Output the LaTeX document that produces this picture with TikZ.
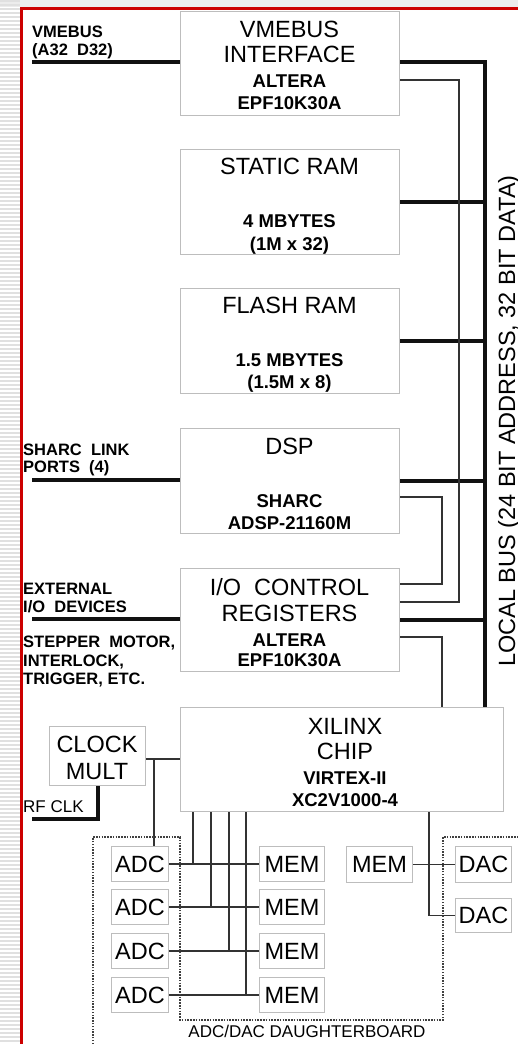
\documentclass[tikz,border=0pt]{standalone}
\usepackage{fontspec}
\setmainfont{Liberation Sans}
\usepackage{tikz}
\usetikzlibrary{positioning,calc}
\definecolor{rojo}{HTML}{CC0000}
\definecolor{borde}{HTML}{BDBDBD}
\definecolor{tinta}{HTML}{111111}
\definecolor{raya}{HTML}{E0E0E0}
\definecolor{fondo}{HTML}{ECECEC}

\begin{document}
\begin{tikzpicture}[x=1pt,y=-1pt,
 blk/.style={draw=borde,line width=1pt,fill=white,inner sep=0pt,anchor=north west},
 chip/.style={blk,font=\fontsize{23.5}{25}\selectfont},
 ttl/.style={font=\fontsize{23.5}{#1}\selectfont,align=center,inner sep=0pt,anchor=north},
 ttl/.default=25,
 sub/.style={font=\bfseries\fontsize{18.5}{#1}\selectfont,align=center,inner sep=0pt,anchor=north},
 sub/.default=22,
 lbl/.style={font=\bfseries\fontsize{16.5}{#1}\selectfont,align=left,inner sep=0pt,anchor=north west},
 lbl/.default=18,
 bigline/.style={line width=4pt,tinta},
 smline/.style={line width=1.8pt,black!80},
 board/.style={line width=1.5pt,black!75,dash pattern=on 1.5pt off 1.3pt}]
\useasboundingbox (0,0) rectangle (518,1044);
% page background
\fill[fondo] (0,0) rectangle (518,7);
\foreach \k in {1,5,...,1041} \draw[raya,line width=1.5pt] (0,\k) -- (20,\k);
\draw[rojo,line width=2.5pt] (518,8.5) -- (21.5,8.5) -- (21.5,1044);
% main column
\node[blk,minimum width=219pt,minimum height=104pt] (vme) at (180,11) {};
\node[blk,minimum width=219pt,minimum height=105pt] (sram) at (180,149) {};
\node[blk,minimum width=219pt,minimum height=105pt] (flash) at (180,288) {};
\node[blk,minimum width=219pt,minimum height=105pt] (dsp) at (180,428) {};
\node[blk,minimum width=219pt,minimum height=103pt] (ioc) at (180,568) {};
\node[blk,minimum width=323pt,minimum height=104pt] (xil) at (180,707) {};
\node[chip,minimum width=96pt,minimum height=59pt] (clk) at (49,726) {};
\node[ttl] (vme-t) at (289.5,21) {VMEBUS\\INTERFACE};
\node[sub] (vme-s) at (289.5,75) {ALTERA\\EPF10K30A};
\node[ttl] (sram-t) at (289.5,158) {STATIC RAM};
\node[sub=23] (sram-s) at (289.5,214) {4 MBYTES\\(1M x 32)};
\node[ttl] (flash-t) at (289.5,297) {FLASH RAM};
\node[sub] (flash-s) at (289.5,353) {1.5 MBYTES\\(1.5M x 8)};
\node[ttl] (dsp-t) at (289.5,438) {DSP};
\node[sub] (dsp-s) at (289.5,494) {SHARC\\ADSP-21160M};
\node[ttl=26] (ioc-t) at (289.5,578) {I/O\ \ CONTROL\\REGISTERS};
\node[sub=20] (ioc-s) at (289.5,634) {ALTERA\\EPF10K30A};
\node[ttl] (xil-t) at (345,718) {XILINX\\CHIP};
\node[sub] (xil-s) at (345,772) {VIRTEX-II\\XC2V1000-4};
\node[ttl=27] (clk-t) at (97,736) {CLOCK\\MULT};
% daughterboard parts
\foreach \i/\y in {1/846,2/889,3/933,4/977}{
  \node[chip,minimum width=57pt,minimum height=35pt] (adc\i) at (111,\y) {ADC};
  \node[chip,minimum width=65pt,minimum height=35pt] (mem\i) at (259,\y) {MEM};}
\node[chip,minimum width=66pt,minimum height=36pt] (memr) at (346,846) {MEM};
\node[chip,minimum width=56pt,minimum height=36pt] (dac1) at (455,846) {DAC};
\node[chip,minimum width=56pt,minimum height=34pt] (dac2) at (455,898) {DAC};
% outside labels
\node[lbl] (vme-l) at (32,26) {VMEBUS\\(A32\ \ D32)};
\node[lbl=17] (sharc-l) at (23,444) {SHARC\ \ LINK\\PORTS\ \ (4)};
\node[lbl] (ext-l) at (23,583) {EXTERNAL\\I/O\ \ DEVICES};
\node[lbl=18.5] (step-l) at (23,636) {STEPPER\ \ MOTOR,\\INTERLOCK,\\TRIGGER, ETC.};
\node[lbl,font=\fontsize{17}{18}\selectfont] (rf-l) at (23,800) {RF CLK};
\node[ttl,font=\fontsize{17}{18}\selectfont] (db-l) at (307,1025) {ADC/DAC DAUGHTERBOARD};
\node[font=\fontsize{23.5}{25}\selectfont,rotate=90,anchor=base,inner sep=0pt] (bus-l) at (515,421) {LOCAL BUS (24 BIT ADDRESS, 32 BIT DATA)};
% buses
\coordinate (bus) at (485,62);
\coordinate (lbus) at (459,80);
\coordinate (loop) at (442,497);
\coordinate (vme-in) at (32,62);
\coordinate (sharc-in) at (32,480);
\coordinate (ext-in) at (32,619);
\coordinate (rf-in) at (32,819);
\coordinate (ck) at (154,759);
\draw[bigline] (vme-in) -- (vme-in -| vme.west);
\draw[bigline] (sharc-in) -- (sharc-in -| dsp.west);
\draw[bigline] (ext-in) -- (ext-in -| ioc.west);
\draw[bigline] (clk.south) |- (rf-in);
\draw[bigline] (vme.east |- bus) -- (bus) -- (bus |- xil.north);
\foreach \n in {sram,flash,dsp,ioc} \draw[bigline] (\n.east) -- (\n.east -| bus);
\draw[smline] (vme.east |- lbus) -- (lbus) |- (ioc.east |- 0,602);
\draw[smline] (dsp.east |- loop) -- (loop) |- (ioc.east |- 0,584);
\draw[smline] (ioc.east |- 0,637) -| (loop |- xil.north);
\draw[smline] (clk.east |- ck) -- (xil.west |- ck);
\draw[smline] (ck) -- (ck |- adc1.north);
\foreach \i/\x in {1/193,2/211,3/229,4/246}{
  \draw[smline] (adc\i.east) -- (mem\i.west);
  \draw[smline] (xil.south -| \x,0) -- (adc\i.east -| \x,0);}
\draw[smline] (memr.east) -- (dac1.west);
\draw[smline] (xil.south -| 429,0) |- (dac2.west);
% daughterboard outline
\draw[board] (93,1044) -- (93,837) -- (180,837) -- (180,1020) -- (443,1020) -- (443,837) -- (518,837);
\end{tikzpicture}
\end{document}
